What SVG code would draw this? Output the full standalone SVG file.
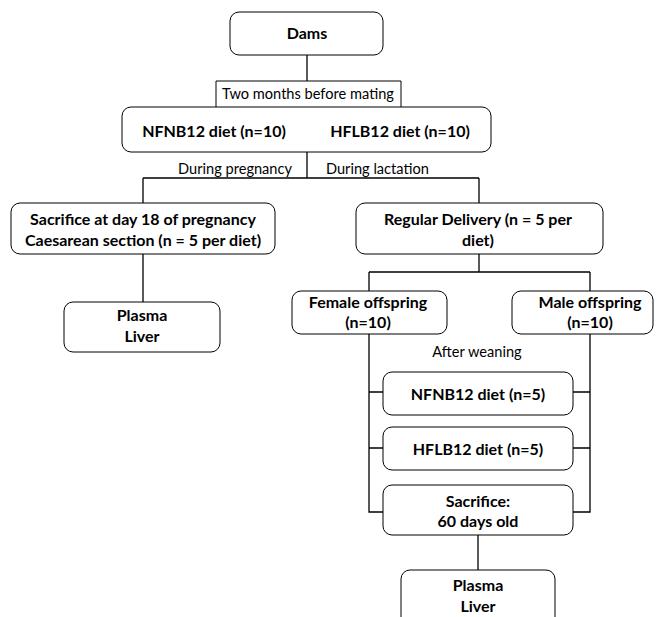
<svg xmlns="http://www.w3.org/2000/svg" width="663" height="617" viewBox="0 0 663 617">
<style>
.box{fill:#fff;stroke:#000;stroke-width:1}
.lbl{fill:#fff;stroke:#000;stroke-width:1}
.ln{stroke:#000;stroke-width:1.3;fill:none}
.b{font-family:Lato,"Liberation Sans",sans-serif;font-weight:bold;font-size:16px;fill:#000;text-anchor:middle}
.r{font-family:Lato,"Liberation Sans",sans-serif;font-size:14.6px;fill:#000}
</style>
<rect width="663" height="617" fill="#fff"/>
<g id="connectors">
<path class="ln" d="M307,55 V81"/>
<path class="ln" d="M307,152 V178 M143,178 H479 M143,178 V203 M479,178 V203"/>
<path class="ln" d="M143,254 V302"/>
<path class="ln" d="M479,254 V272 M369,272 H590 M369,272 V291 M590,272 V291"/>
<path class="ln" d="M369,334 V512 H383 M369,392 H383 M369,448 H383"/>
<path class="ln" d="M590,334 V512 H573 M590,392 H573 M590,448 H573"/>
<path class="ln" d="M478,535 V570"/>
</g>
<g id="dams"><rect class="box" x="230" y="12" width="153" height="43" rx="9"/><text class="b" x="307" y="39">Dams</text></g>
<g id="label-mating"><path class="lbl" d="M216,107 V81 H401 V107"/><text class="r" x="308" y="99" text-anchor="middle">Two months before mating</text></g>
<g id="diets"><rect class="box" x="122" y="107" width="369" height="45" rx="9"/><text class="b" x="214" y="137">NFNB12 diet (n=10)</text><text class="b" x="400" y="137">HFLB12 diet (n=10)</text></g>
<g id="label-pregnancy"><text class="r" x="292" y="174" text-anchor="end">During pregnancy</text></g>
<g id="label-lactation"><text class="r" x="326" y="174">During lactation</text></g>
<g id="sacrifice18"><rect class="box" x="11" y="203" width="264" height="51" rx="9"/><text class="b" x="143" y="225">Sacrifice at day 18 of pregnancy</text><text class="b" x="143" y="246">Caesarean section (n = 5 per diet)</text></g>
<g id="plasma1"><rect class="box" x="64" y="302" width="156" height="50" rx="9"/><text class="b" x="142" y="321">Plasma</text><text class="b" x="142" y="342">Liver</text></g>
<g id="regular"><rect class="box" x="356" y="203" width="247" height="51" rx="9"/><text class="b" x="478" y="225">Regular Delivery (n = 5 per</text><text class="b" x="478" y="246">diet)</text></g>
<g id="female"><rect class="box" x="292" y="291" width="155" height="43" rx="9"/><text class="b" x="368" y="308">Female offspring</text><text class="b" x="368" y="328">(n=10)</text></g>
<g id="male"><rect class="box" x="512" y="291" width="141" height="43" rx="9"/><text class="b" x="590" y="308">Male offspring</text><text class="b" x="590" y="328">(n=10)</text></g>
<g id="label-weaning"><text class="r" x="477" y="357" text-anchor="middle">After weaning</text></g>
<g id="nfnb5"><rect class="box" x="383" y="372" width="190" height="43" rx="9"/><text class="b" x="478" y="400">NFNB12 diet (n=5)</text></g>
<g id="hflb5"><rect class="box" x="383" y="427" width="190" height="43" rx="9"/><text class="b" x="478" y="455">HFLB12 diet (n=5)</text></g>
<g id="sacrifice60"><rect class="box" x="383" y="485" width="190" height="50" rx="9"/><text class="b" x="478" y="507">Sacrifice:</text><text class="b" x="478" y="527">60 days old</text></g>
<g id="plasma2"><rect class="box" x="401" y="570" width="154" height="56" rx="9"/><text class="b" x="478" y="591">Plasma</text><text class="b" x="478" y="612">Liver</text></g>
</svg>
